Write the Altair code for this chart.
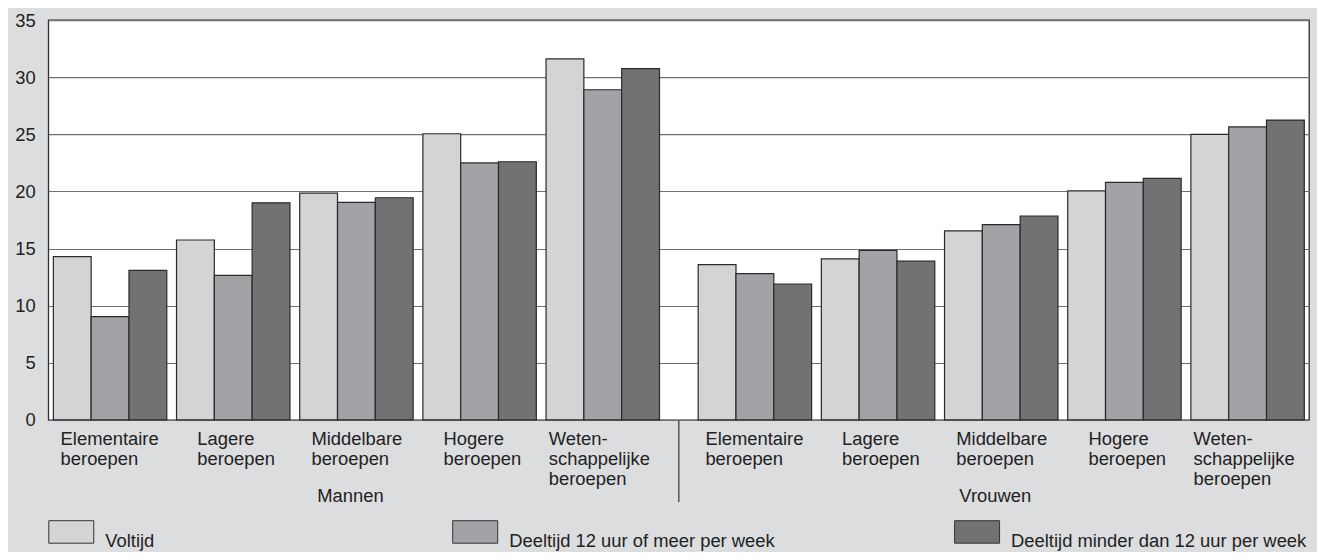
import altair as alt
import pandas as pd

# ---------------- data ----------------
categories = [
    "Elementaire\nberoepen",
    "Lagere\nberoepen",
    "Middelbare\nberoepen",
    "Hogere\nberoepen",
    "Weten-\nschappelijke\nberoepen",
]
genders = ["Mannen", "Vrouwen"]
series = [
    "Voltijd",
    "Deeltijd 12 uur of meer per week",
    "Deeltijd minder dan 12 uur per week",
]

mannen_voltijd = [14.3, 15.75, 19.85, 25.05, 31.6]
mannen_12plus = [9.05, 12.65, 19.05, 22.5, 28.9]
mannen_min12 = [13.1, 19.0, 19.45, 22.6, 30.75]
vrouwen_voltijd = [13.6, 14.1, 16.55, 20.05, 25.0]
vrouwen_12plus = [12.8, 14.85, 17.1, 20.8, 25.65]
vrouwen_min12 = [11.9, 13.9, 17.85, 21.15, 26.25]

y_ticks = [0, 5, 10, 15, 20, 25, 30, 35]

# ---------------- styling / layout ----------------
colors = ["#d3d4d6", "#a2a3a7", "#717274"]
FONT = "Liberation Sans"
FS = 18.4
TXT = "#222222"
W, H = 1261, 400
X_MAX = 10.235          # slot units across the plot
UNIT_PX = W / X_MAX
M_OFF = 0.041           # first Mannen group offset within its slot
V_OFF = 0.276           # Vrouwen groups offset (extra gap)
BAR_W = 0.307
CHAR_PX = 9.0

values = {
    ("Mannen", 0): mannen_voltijd,
    ("Mannen", 1): mannen_12plus,
    ("Mannen", 2): mannen_min12,
    ("Vrouwen", 0): vrouwen_voltijd,
    ("Vrouwen", 1): vrouwen_12plus,
    ("Vrouwen", 2): vrouwen_min12,
}
rows = []
for g in genders:
    for si, s in enumerate(series):
        for ci, c in enumerate(categories):
            rows.append({"gender": g, "ci": ci, "cat": c, "series": s, "si": si,
                         "value": values[(g, si)][ci]})
df = pd.DataFrame(rows)

lab_rows = [{"gender": g, "ci": ci, "label": c} for g in genders for ci, c in enumerate(categories)]
lab_df = pd.DataFrame(lab_rows)
grp_df = pd.DataFrame({"gender": genders})

slot_expr = f"datum.ci + (datum.gender == 'Vrouwen' ? {5 + V_OFF} : {M_OFF})"

xscale = alt.Scale(domain=[0, X_MAX], nice=False, zero=False, padding=0)
yscale = alt.Scale(domain=[0, 35], nice=False, padding=0)

legend_x = [0, 404, 906]
LEGEND_Y = 489

bar_layers = []
for si, (s, col) in enumerate(zip(series, colors)):
    layer = (
        alt.Chart(df)
        .transform_filter(alt.datum.series == s)
        .transform_calculate(slot=slot_expr)
        .transform_calculate(x0=f"datum.slot + datum.si * {BAR_W}")
        .transform_calculate(x1=f"datum.x0 + {BAR_W}")
        .mark_bar(stroke="#2a2a2a", strokeWidth=1.2, orient="vertical")
        .encode(
            x=alt.X("x0:Q", scale=xscale, axis=None),
            x2="x1:Q",
            y=alt.Y("value:Q", scale=yscale,
                    axis=alt.Axis(values=y_ticks, title=None, ticks=False, domain=False,
                                  grid=True, gridColor="#707070", gridWidth=1.2,
                                  labelPadding=13, labelFontSize=FS, labelFont=FONT,
                                  labelColor=TXT)),
            y2=alt.datum(0),
            fill=alt.Fill(
                "series:N",
                scale=alt.Scale(domain=[s], range=[col]),
                legend=alt.Legend(
                    title=None, orient="none", legendX=legend_x[si], legendY=LEGEND_Y,
                    padding=0, symbolType="M-1,-0.5H1V0.5H-1Z", symbolSize=2025,
                    symbolStrokeColor="#333333", symbolStrokeWidth=1,
                    labelFontSize=FS, labelFont=FONT, labelColor=TXT,
                    labelOffset=11, labelBaseline="top", labelLimit=600,
                ),
            ),
        )
    )
    bar_layers.append(layer)

len_expr = ("max(length(split(datum.label, '\\n')[0]), "
            "length(split(datum.label, '\\n')[1] || ''), "
            "length(split(datum.label, '\\n')[2] || ''))")

cat_labels = (
    alt.Chart(lab_df)
    .transform_calculate(slot=slot_expr)
    .transform_calculate(maxlen=len_expr)
    .transform_calculate(lx=f"datum.slot + {1.5 * BAR_W} - datum.maxlen * {CHAR_PX / 2 / UNIT_PX}")
    .mark_text(align="left", baseline="top", lineBreak="\n", fontSize=FS, font=FONT,
               lineHeight=20, color=TXT)
    .encode(x=alt.X("lx:Q", scale=xscale, axis=None), y=alt.value(410), text="label:N")
)

grp_labels = (
    alt.Chart(grp_df)
    .transform_calculate(gx=f"(datum.gender == 'Vrouwen' ? {5 + V_OFF} : {M_OFF}) + {(4 + 3 * BAR_W) / 2}")
    .mark_text(align="center", baseline="alphabetic", fontSize=FS, font=FONT, color=TXT, dx=-6)
    .encode(x=alt.X("gx:Q", scale=xscale, axis=None), y=alt.value(482), text="gender:N")
)

separator = (
    alt.Chart(grp_df)
    .transform_filter(alt.datum.gender == "Mannen")
    .transform_calculate(sx=f"({M_OFF} + 4 + {3 * BAR_W} + 5 + {V_OFF}) / 2")
    .mark_rule(color="#555555", strokeWidth=1.5)
    .encode(x=alt.X("sx:Q", scale=xscale, axis=None), y=alt.value(400), y2=alt.value(482))
)

chart = (
    alt.layer(*bar_layers, cat_labels, grp_labels, separator)
    .resolve_scale(fill="independent")
    .properties(
        width=W, height=H,
        background="#dcdddf",
        view=alt.ViewBackground(fill="white", stroke="#2e2e2e", strokeWidth=1.3),
        autosize=alt.AutoSizeParams(type="none"),
        padding={"left": 40.3, "top": 12, "right": 8, "bottom": 132},
    )
    .configure_view(fill="white", stroke="#2e2e2e", strokeWidth=1.3)
    .configure(font=FONT)
)

chart.save("out.html", embed_options={"renderer": "svg", "actions": False})
